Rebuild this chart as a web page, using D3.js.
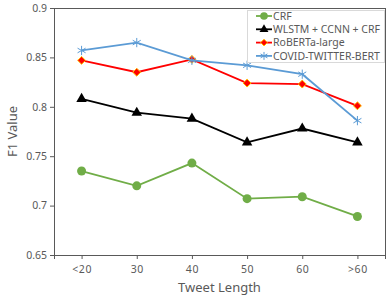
<!DOCTYPE html>
<html>
<head>
<meta charset="utf-8">
<script src="https://cdn.jsdelivr.net/npm/d3@7"></script>
<style>
  body { margin: 0; background: #fff; }
  text { font-family: "Noto Sans", "DejaVu Sans", sans-serif; fill: #595959; }
</style>
</head>
<body>
<div id="wrapper"></div>
<script>
let categories = ["<20", "30", "40", "50", "60", ">60"];
let yTicks = [0.65, 0.7, 0.75, 0.8, 0.85, 0.9];
let seriesNames = ["CRF", "WLSTM + CCNN + CRF", "RoBERTa-large", "COVID-TWITTER-BERT"];
let crfValues = [0.735, 0.720, 0.743, 0.707, 0.709, 0.689];
let wlstmValues = [0.808, 0.794, 0.788, 0.764, 0.778, 0.764];
let robertaValues = [0.847, 0.835, 0.848, 0.824, 0.823, 0.801];
let covidValues = [0.857, 0.865, 0.847, 0.842, 0.833, 0.786];

let dimensions = {
  width: 392,
  height: 296,
  margin: { top: 8, right: 7, bottom: 41, left: 54 }
};
dimensions.boundedWidth = dimensions.width - dimensions.margin.left - dimensions.margin.right;
dimensions.boundedHeight = dimensions.height - dimensions.margin.top - dimensions.margin.bottom;

let series = [
  { name: seriesNames[0], values: crfValues, color: "#70AD47", marker: "circle" },
  { name: seriesNames[1], values: wlstmValues, color: "#000000", marker: "triangle" },
  { name: seriesNames[2], values: robertaValues, color: "#FF0000", marker: "diamond" },
  { name: seriesNames[3], values: covidValues, color: "#5B9BD5", marker: "star" }
];

let wrapper = d3.select("#wrapper")
  .append("svg")
  .attr("width", dimensions.width)
  .attr("height", dimensions.height);

let bounds = wrapper.append("g")
  .attr("transform", `translate(${dimensions.margin.left},${dimensions.margin.top})`);

let xScale = d3.scalePoint()
  .domain(categories)
  .range([0, dimensions.boundedWidth])
  .padding(0.5);

let yScale = d3.scaleLinear()
  .domain([0.65, 0.9])
  .range([dimensions.boundedHeight, 0]);

// frame
bounds.append("rect")
  .attr("width", dimensions.boundedWidth)
  .attr("height", dimensions.boundedHeight)
  .attr("fill", "none")
  .attr("stroke", "#595959")
  .attr("stroke-width", 1)
  .attr("shape-rendering", "crispEdges");

let yAxis = bounds.append("g")
  .call(d3.axisLeft(yScale).tickValues(yTicks).tickFormat(d3.format("")).tickSize(4).tickPadding(3));
let xAxis = bounds.append("g")
  .attr("transform", `translate(0,${dimensions.boundedHeight})`)
  .call(d3.axisBottom(xScale).tickSize(4).tickPadding(7));

[xAxis, yAxis].forEach(ax => {
  ax.select(".domain").attr("stroke", "#595959");
  ax.selectAll(".tick line").attr("stroke", "#595959");
  ax.selectAll(".tick text").attr("font-size", 10.5).style("fill", "#595959")
    .attr("font-family", "'Noto Sans', sans-serif");
});
xAxis.selectAll(".tick text").attr("letter-spacing", 0.6);

bounds.append("text")
  .attr("x", dimensions.boundedWidth / 2)
  .attr("y", dimensions.boundedHeight + 37)
  .attr("text-anchor", "middle")
  .attr("font-size", 13)
  .text("Tweet Length");

bounds.append("text")
  .attr("transform", `translate(${-dimensions.margin.left + 17},${dimensions.boundedHeight / 2}) rotate(-90)`)
  .attr("text-anchor", "middle")
  .attr("font-size", 13)
  .text("F1 Value");

let line = d3.line()
  .x((d, i) => xScale(categories[i]))
  .y(d => yScale(d));

function drawMarker(g, s, x, y, small) {
  let k = small ? 0.85 : 1;
  if (s.marker === "circle") {
    g.append("circle").attr("cx", x).attr("cy", y).attr("r", 4.5 * k).attr("fill", s.color);
  } else if (s.marker === "triangle") {
    g.append("path")
      .attr("d", d3.symbol().type(d3.symbolTriangle).size(48 * k * k)())
      .attr("transform", `translate(${x},${y})`)
      .attr("fill", s.color);
  } else if (s.marker === "diamond") {
    g.append("path")
      .attr("d", d3.symbol().type(d3.symbolDiamond2).size(40 * k * k)())
      .attr("transform", `translate(${x},${y})`)
      .attr("fill", s.color)
      .attr("stroke", "#FFC000")
      .attr("stroke-width", 1);
  } else {
    g.append("path")
      .attr("d", d3.symbol().type(d3.symbolAsterisk).size(60 * k * k)())
      .attr("transform", `translate(${x},${y})`)
      .attr("fill", "none")
      .attr("stroke", s.color)
      .attr("stroke-width", 1);
  }
}

series.forEach(s => {
  let g = bounds.append("g");
  g.append("path")
    .datum(s.values)
    .attr("d", line)
    .attr("fill", "none")
    .attr("stroke", s.color)
    .attr("stroke-width", 1.8);
  s.values.forEach((v, i) => drawMarker(g, s, xScale(categories[i]), yScale(v), false));
});

// legend
let legend = wrapper.append("g").attr("transform", "translate(247,10)");
legend.append("rect")
  .attr("width", 137)
  .attr("height", 52)
  .attr("fill", "#fff")
  .attr("stroke", "#D9D9D9")
  .attr("shape-rendering", "crispEdges");

series.forEach((s, i) => {
  let y = 6 + i * 13.3;
  let row = legend.append("g");
  row.append("line")
    .attr("x1", 9).attr("x2", 25)
    .attr("y1", y).attr("y2", y)
    .attr("stroke", s.color)
    .attr("stroke-width", 1.8);
  drawMarker(row, s, 17, y, true);
  row.append("text")
    .attr("x", 26)
    .attr("y", y + 3.8)
    .attr("font-size", 10.5)
    .text(s.name);
});
</script>
</body>
</html>
